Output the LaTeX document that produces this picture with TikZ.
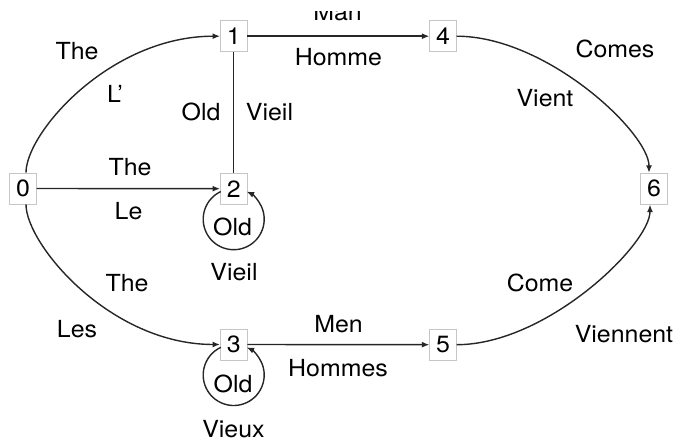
\documentclass[tikz,border=0pt]{standalone}
\usepackage{fontspec}
\setmainfont[FakeStretch=1.06]{TeX Gyre Heros}
\usetikzlibrary{arrows.meta,calc}
\begin{document}
\begin{tikzpicture}[x=1pt,y=-1pt,
  every node/.style={font=\fontsize{23.5}{28}\selectfont},
  state/.style={draw=gray!45, line width=0.8pt, fill=white, minimum width=26.5pt, minimum height=31pt, inner sep=0pt},
  lbl/.style={anchor=base, inner sep=0pt},
  plain/.style={line width=1.4pt, draw=black!85},
  edge/.style={plain, -{Latex[length=7.5pt,width=6pt]}}]
\useasboundingbox (0,0) rectangle (674,443);
\node[state] (n0) at (23,188.5) {0};
\node[state] (n1) at (233.7,36.2) {1};
\node[state] (n2) at (233.7,188.7) {2};
\node[state] (n3) at (233.7,344.5) {3};
\node[state] (n4) at (443,36.2) {4};
\node[state] (n5) at (443,344.7) {5};
\node[state] (n6) at (654,188.7) {6};
% straight edges
\draw[edge] (n0) -- (n2);
\draw[edge] (n1) -- (n4);
\draw[edge] (n3) -- (n5);
\draw[plain] (n1) -- (n2);
% curved edges
\draw[edge] ([xshift=3pt]n0.north) .. controls +(0,-40) and +(-110,0) .. (n1.west);
\draw[edge] ([xshift=3pt]n0.south) .. controls +(0,40) and +(-110,0) .. (n3.west);
\draw[edge] (n4.east) .. controls +(90,0) and +(0,-40) .. ([xshift=-5pt]n6.north);
\draw[edge] (n5.east) .. controls +(90,0) and +(0,40) .. ([xshift=-4pt]n6.south);
% loops
\draw[edge] ($(n2.center)+(0,30.5)+(-115:30.5)$) arc[start angle=-115, end angle=-425, radius=30.5];
\draw[edge] ($(n3.center)+(0,30.5)+(-115:30.5)$) arc[start angle=-115, end angle=-425, radius=30.5];
% labels
\node[lbl] (t01) at (77,60) {The};
\node[lbl] (f01) at (115,103) {L'};
\node[lbl] (t12) at (201,121) {Old};
\node[lbl] (f12) at (269.5,121) {Vieil};
\node[lbl] (t02) at (130,176) {The};
\node[lbl] (f02) at (128.5,220) {Le};
\node[lbl] (t22) at (232.5,236) {Old};
\node[lbl] (f22) at (234,281) {Vieil};
\node[lbl] (t03) at (127,292) {The};
\node[lbl] (f03) at (77,337) {Les};
\node[lbl] (t35) at (338.5,332) {Men};
\node[lbl] (f35) at (338,376) {Hommes};
\node[lbl] (t33) at (233,392) {Old};
\node[lbl] (f33) at (233.5,437) {Vieux};
\node[lbl] (f14) at (338.5,66) {Homme};
\begin{scope}
\clip (0,12) rectangle (674,443);
\node[lbl] (t14) at (337.5,20.7) {Man};
\end{scope}
\node[lbl] (t46) at (615,58) {Comes};
\node[lbl] (f46) at (545,107) {Vient};
\node[lbl] (t56) at (540,292) {Come};
\node[lbl] (f56) at (624,342) {Viennent};
\end{tikzpicture}
\end{document}
